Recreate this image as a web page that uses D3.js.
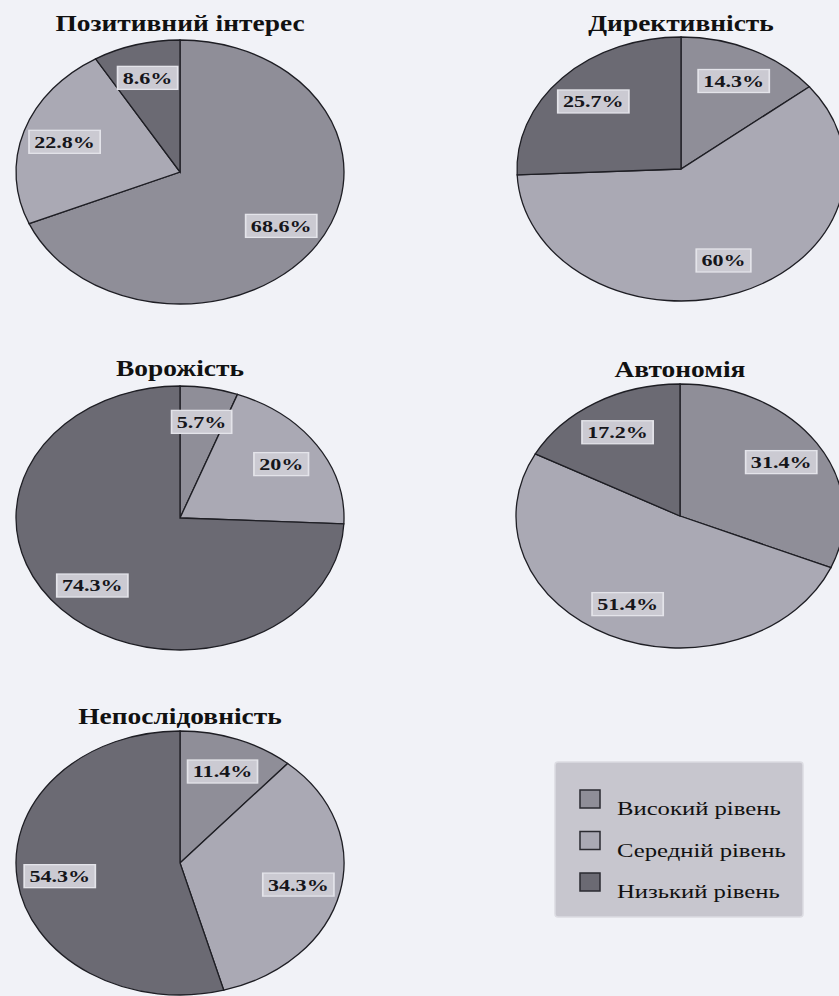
<!DOCTYPE html>
<html><head><meta charset="utf-8">
<script src="https://cdn.jsdelivr.net/npm/d3@7/dist/d3.min.js"></script>
<style>
html,body{margin:0;padding:0;background:#f1f2f7;}
svg{display:block;}
text{font-family:'Liberation Serif','Times New Roman',serif;}
</style></head>
<body>
<svg id="c" width="839" height="996"></svg>
<script>
const levels = ["Високий рівень", "Середній рівень", "Низький рівень"];
const titles = ["Позитивний інтерес", "Директивність", "Ворожість", "Автономія", "Непослідовність"];
const pozytyvnyi = [68.6, 22.8, 8.6];
const dyrektyvnist = [14.3, 60, 25.7];
const vorozhist = [5.7, 20, 74.3];
const avtonomiia = [31.4, 51.4, 17.2];
const neposlidovnist = [11.4, 34.3, 54.3];
const labelsText = [
  ["68.6%", "22.8%", "8.6%"],
  ["14.3%", "60%", "25.7%"],
  ["5.7%", "20%", "74.3%"],
  ["31.4%", "51.4%", "17.2%"],
  ["11.4%", "34.3%", "54.3%"]
];
const series = [pozytyvnyi, dyrektyvnist, vorozhist, avtonomiia, neposlidovnist];

const colors = ["#8f8e98", "#aaa9b4", "#6b6a73"];
const layout = [
  {cx:180, cy:172, ty:31},
  {cx:681, cy:169, ty:31},
  {cx:180, cy:518, ty:376},
  {cx:680, cy:516, ty:377},
  {cx:180, cy:863, ty:724}
];
const RX = 164, RY = 132;
const SX = 1.22; // horizontal stretch of the scanned figure
const svg = d3.select("#c");
const color = d3.scaleOrdinal().domain(levels).range(colors);
const pie = d3.pie().sort(null).value(d => d.v);
const arc = d3.arc().innerRadius(0).outerRadius(RX);
const labelArc = d3.arc().innerRadius(RX*0.74).outerRadius(RX*0.74);

series.forEach((vals, i) => {
  const L = layout[i];
  const data = vals.map((v, j) => ({v, level: levels[j], label: labelsText[i][j]}));
  const arcs = pie(data);
  const g = svg.append("g").attr("transform", `translate(${L.cx},${L.cy})`);
  const pg = g.append("g").attr("transform", `scale(1,${RY/RX})`);
  pg.selectAll("path").data(arcs).join("path")
    .attr("d", arc)
    .attr("fill", d => color(d.data.level))
    .attr("stroke", "#1e1e24")
    .attr("stroke-width", 1.3)
    .attr("vector-effect", "non-scaling-stroke");
  const lg = g.selectAll("g.lbl").data(arcs).join("g").attr("class","lbl")
    .attr("transform", d => {
      const c = labelArc.centroid(d);
      return `translate(${c[0]},${c[1]*RY/RX}) scale(1.3,1)`;
    });
  lg.each(function(d){
    const gg = d3.select(this);
    const t = gg.append("text")
      .attr("text-anchor","middle")
      .attr("dy","0.35em")
      .attr("font-weight","bold")
      .attr("font-size", 17)
      .attr("fill","#15151a")
      .text(d.data.label);
    const bb = t.node().getBBox();
    gg.insert("rect","text")
      .attr("x", bb.x-4).attr("y", -11.5)
      .attr("width", bb.width+8).attr("height", 23)
      .attr("fill","#cbcad2").attr("stroke","#e4e4ea").attr("stroke-width",1.3);
  });
  svg.append("g").attr("transform", `translate(${L.cx},${L.ty}) scale(${SX},1)`)
    .append("text")
    .attr("text-anchor","middle")
    .attr("font-weight","bold")
    .attr("font-size", 22.5)
    .attr("fill","#111")
    .text(titles[i]);
});

// legend
const leg = svg.append("g");
leg.append("rect").attr("x",555).attr("y",762).attr("width",248).attr("height",155)
  .attr("rx",3).attr("fill","#c7c6ce").attr("stroke","#dcdce2").attr("stroke-width",1.5);
const items = leg.selectAll("g.it").data(levels).join("g").attr("class","it")
  .attr("transform",(d,i)=>`translate(0,${i*41.5})`);
items.append("rect").attr("x",580).attr("y",790).attr("width",20).attr("height",18)
  .attr("fill", d => color(d)).attr("stroke","#2a2a30").attr("stroke-width",1.5);
items.append("g").attr("transform", `translate(617,815) scale(1.3,1)`)
  .append("text")
  .attr("font-size",19).attr("fill","#111")
  .text(d => d);
</script>
</body></html>
